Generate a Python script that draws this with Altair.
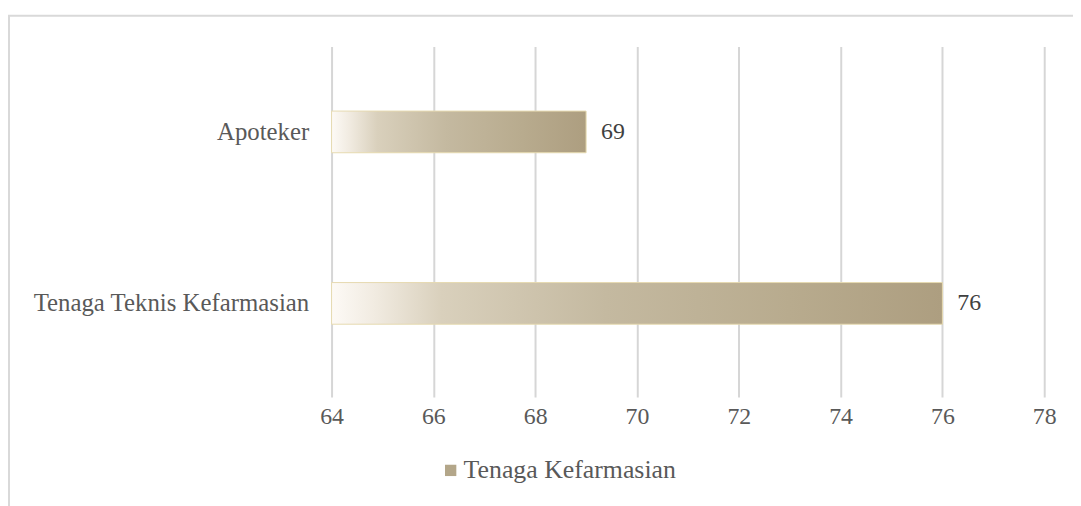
import altair as alt
import pandas as pd

categories = ["Apoteker", "Tenaga Teknis Kefarmasian"]
values = [69, 76]
series_name = "Tenaga Kefarmasian"
x_ticks = [64, 66, 68, 70, 72, 74, 76, 78]

df = pd.DataFrame({"kategori": categories, "nilai": values, "seri": [series_name] * len(categories)})
frame_df = pd.DataFrame({"k": [0]})

FONT = "Liberation Serif"

grad = alt.LinearGradient(
    gradient="linear",
    stops=[
        alt.GradientStop(offset=0.0, color="#fdfaf6"),
        alt.GradientStop(offset=0.07, color="#f1ebe1"),
        alt.GradientStop(offset=0.18, color="#d9d0bc"),
        alt.GradientStop(offset=0.45, color="#c4b9a0"),
        alt.GradientStop(offset=0.75, color="#b8ab8e"),
        alt.GradientStop(offset=1.0, color="#ad9e80"),
    ],
    x1=0, x2=1, y1=0, y2=0,
)

y_enc = alt.Y(
    "kategori:N",
    sort=categories,
    title=None,
    scale=alt.Scale(paddingInner=0.757, paddingOuter=0.40, align=0.47),
    axis=alt.Axis(
        labelFont=FONT, labelFontSize=25, labelColor="#595959", labelLimit=0,
        labelPadding=23, ticks=False, domain=False, grid=False,
    ),
)
x_enc = alt.X(
    "nilai:Q",
    title=None,
    scale=alt.Scale(domain=[64, 78], nice=False, zero=False),
    axis=alt.Axis(
        values=x_ticks, labelFont=FONT, labelFontSize=24, labelColor="#595959",
        labelPadding=8, labelFlush=False, ticks=False, domain=False, grid=True,
        gridColor="#d6d6d6", gridWidth=2,
    ),
)

bars = alt.Chart(df).mark_bar(
    fill=grad, stroke="#e6dab0", strokeWidth=1
).encode(
    y=y_enc,
    x=alt.X("nilai:Q"),
    x2=alt.datum(64),
)

labels = alt.Chart(df).mark_text(
    align="left", baseline="middle", dx=15, font=FONT, fontSize=24, color="#404040"
).encode(
    y=alt.Y("kategori:N", sort=categories),
    x=alt.X("nilai:Q"),
    text=alt.Text("nilai:Q"),
)

legend_layer = alt.Chart(df).mark_square(opacity=0, size=10).encode(
    y=alt.Y("kategori:N", sort=categories),
    x=x_enc,
    color=alt.Color(
        "seri:N",
        scale=alt.Scale(range=["#b3a689"]),
        legend=alt.Legend(
            title=None, orient="none", legendX=107, legendY=414,
            symbolType="square", symbolSize=130, symbolOpacity=1,
            symbolStrokeWidth=0, labelFont=FONT, labelFontSize=26,
            labelColor="#595959", labelOffset=0, labelLimit=0,
        ),
    ),
)

frame = alt.Chart(frame_df).mark_rect(
    fill=None, filled=False, stroke="#d9d9d9", strokeWidth=2
).encode(
    x=alt.value(-325), x2=alt.value(900), y=alt.value(-31), y2=alt.value(600)
)

chart = alt.layer(frame, legend_layer, bars, labels).properties(
    width=718, height=353,
    background="white",
    autosize=alt.AutoSizeParams(type="none"),
    padding={"left": 326, "top": 37, "right": 29, "bottom": 108},
).configure_view(strokeWidth=0, stroke="transparent")

chart.save("out.html", embed_options={"renderer": "svg", "actions": False})
